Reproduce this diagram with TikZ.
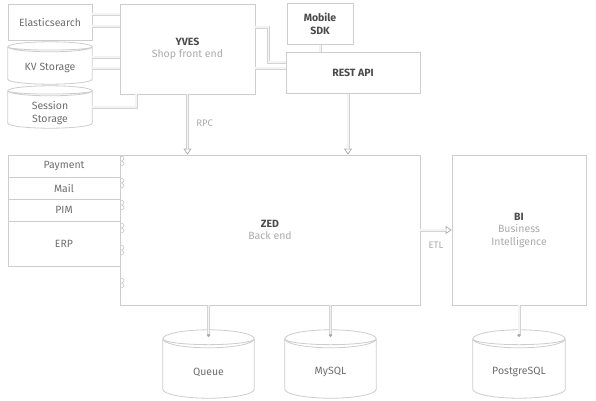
\documentclass[tikz,border=0pt]{standalone}
\usepackage{fontspec}
\setmainfont{Fira Sans}
\usetikzlibrary{calc,arrows.meta}

\definecolor{edge}{HTML}{CDCDCD}
\definecolor{txt}{HTML}{6E6E6E}
\definecolor{title}{HTML}{4A4A4A}
\definecolor{soft}{HTML}{ABABAB}
\definecolor{pipeout}{HTML}{D3D3D3}
\definecolor{pipein}{HTML}{F3F3F3}

\newcommand{\boxtitle}[1]{\textcolor{title}{\bfseries #1}}
\newcommand{\boxsub}[1]{\textcolor{soft}{#1}}

% cylinder outline round a node: name, y radius of the top
\newcommand{\dbdraw}[2]{%
  \draw[dbline] let \p1=(#1.north west), \p2=(#1.south east), \n1={(\x2-\x1)/2} in
    (\x1,\y1-#2) arc[start angle=180, end angle=0, x radius=\n1, y radius=#2]
    -- (\x2,\y2+#2) arc[start angle=0, end angle=-180, x radius=\n1, y radius=#2] -- cycle;
  \draw[dbline, fill=none] let \p1=(#1.north west), \p2=(#1.south east), \n1={(\x2-\x1)/2} in
    (\x1,\y1-#2) arc[start angle=180, end angle=360, x radius=\n1, y radius=#2]
    (\x1,\y1-#2) arc[start angle=180, end angle=360, x radius=\n1, y radius=0.65*#2];
}

\tikzset{
  box/.style={draw=edge, fill=white, line width=0.8pt, text=txt, align=center,
    inner sep=0pt, font=\fontsize{10.5}{12.5}\selectfont},
  db/.style={inner sep=0pt},
  dbline/.style={draw=edge, fill=white, line width=0.8pt},
  dbtext/.style={text=txt, align=center, font=\fontsize{10.5}{12.5}\selectfont},
  lbl/.style={text=soft, font=\fontsize{9.5}{11}\selectfont},
  notch/.style={draw=edge, line width=0.7pt},
  pipe/.style={draw=pipeout, line width=3pt, postaction={-, draw=pipein, line width=1.4pt}},
  pipeto/.style={draw=pipeout, line width=3pt,
    -{Triangle[open, length=6pt, width=8pt, line width=0.7pt, color=soft, fill=white]},
    postaction={-, draw=pipein, line width=1.4pt, shorten >=6pt}},
  pipedot/.style={draw=pipeout, line width=3pt, -{Circle[length=3pt, color=soft]},
    postaction={-, draw=pipein, line width=1.4pt, shorten >=3pt}},
}

\begin{document}
\begin{tikzpicture}[x=1pt,y=-1pt]
    \useasboundingbox (0,0) rectangle (596,400);

    % Stores beside the shop
    \node[box, minimum width=84pt, minimum height=36pt] (es) at (50,22) {Elasticsearch};
    \node[db, minimum width=84pt, minimum height=42pt] (kv) at (50,63) {};
    \dbdraw{kv}{5pt}
    \node[dbtext] (kvtext) at ([yshift=-5pt]kv.center) {KV Storage};
    \node[db, minimum width=84pt, minimum height=42pt] (ss) at (50,107) {};
    \dbdraw{ss}{5pt}
    \node[dbtext] (sstext) at ([yshift=-6pt]ss.center) {Session\\Storage};

    % Front end and APIs
    \node[box, minimum width=135pt, minimum height=90pt] (yves) at (187.5,49)
        {\boxtitle{YVES}\\\boxsub{Shop front end}};
    \node[box, minimum width=66pt, minimum height=41pt] (sdk) at (320,24)
        {\boxtitle{Mobile}\\\boxtitle{SDK}};
    \node[box, minimum width=134pt, minimum height=41pt] (rest) at (353,73)
        {\boxtitle{REST API}};

    % Plug-in panel
    \node[box, minimum width=112pt, minimum height=22pt] (pay) at (64,166) {Payment};
    \node[box, minimum width=112pt, minimum height=22pt] (mail) at (64,188) {Mail};
    \node[box, minimum width=112pt, minimum height=22pt] (pim) at (64,210) {PIM};
    \node[box, minimum width=112pt, minimum height=45pt] (erp) at (64,243.5) {ERP};

    % Back end and BI
    \node[box, minimum width=300pt, minimum height=150pt] (zed) at (270,230)
        {\boxtitle{ZED}\\\boxsub{Back end}};
    \node[box, minimum width=134pt, minimum height=150pt] (bi) at (519,230)
        {\boxtitle{BI}\\\boxsub{Business}\\\boxsub{Intelligence}};

    % Notches on the left side of ZED
    \foreach \ny in {161,183,205,228,250,283}
        \draw[notch] (120,\ny-5) .. controls (125,\ny-5) and (125,\ny-1) .. (121.5,\ny)
            .. controls (125,\ny+1) and (125,\ny+5) .. (120,\ny+5);

    % Databases
    \node[db, minimum width=91pt, minimum height=68pt] (queue) at (208.5,364) {};
    \dbdraw{queue}{9pt}
    \node[dbtext] (queuetext) at ([yshift=-8pt]queue.center) {Queue};
    \node[db, minimum width=91pt, minimum height=68pt] (mysql) at (330.5,364) {};
    \dbdraw{mysql}{9pt}
    \node[dbtext] (mysqltext) at ([yshift=-8pt]mysql.center) {MySQL};
    \node[db, minimum width=92pt, minimum height=68pt] (pg) at (519,364) {};
    \dbdraw{pg}{9pt}
    \node[dbtext] (pgtext) at ([yshift=-8pt]pg.center) {PostgreSQL};

    % Pipes into YVES
    \draw[pipe] ([yshift=8pt]es.east) -- ([yshift=35pt]yves.west);
    \draw[pipe] ([yshift=-4pt]es.east) -- ([yshift=23pt]yves.west);
    \draw[pipe] ([yshift=6pt]kv.east) -- ([yshift=-8pt]yves.west);
    \draw[pipe] ([yshift=-5pt]kv.east) -- ([yshift=-19pt]yves.west);
    \draw[pipe] (ss.east) -| ([xshift=-51.5pt]yves.south);

    % YVES and SDK to REST API
    \draw[pipe] ([yshift=22pt]yves.east) -- ++(13,0) |- ([yshift=11pt]rest.west);
    \draw[pipe] ([yshift=-19pt]yves.east) -- ([yshift=5pt]rest.west);
    \draw[pipe] (sdk.south) -- (sdk.south |- rest.north);

    % Calls into ZED
    \draw[pipeto] (yves.south) -- (yves.south |- zed.north)
        node[pos=0.48, right=4pt, lbl] (rpc) {RPC};
    \coordinate (restdown) at ([xshift=-5pt]rest.south);
    \draw[pipeto] (restdown) -- (restdown |- zed.north);
    \draw[pipeto] (zed.east) -- (bi.west) node[midway, below=7pt, lbl] (etl) {ETL};

    % ZED and BI to databases
    \draw[pipedot] (zed.south -| queue) -- ([yshift=-7pt]queue.north);
    \draw[pipedot] (zed.south -| mysql) -- ([yshift=-7pt]mysql.north);
    \draw[pipedot] (bi.south) -- ([yshift=-7pt]pg.north);
\end{tikzpicture}
\end{document}
